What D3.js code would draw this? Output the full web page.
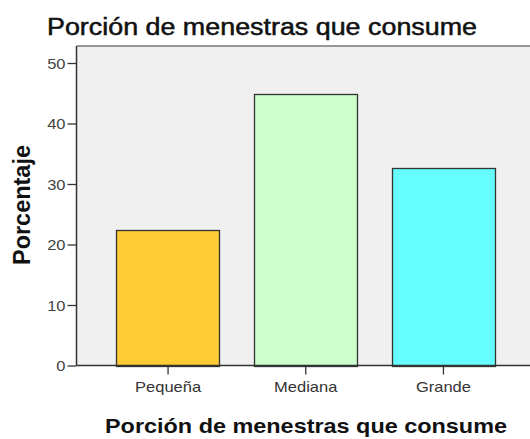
<!DOCTYPE html>
<html>
<head>
<meta charset="utf-8">
<script src="https://cdn.jsdelivr.net/npm/d3@7"></script>
<style>
  html, body { margin: 0; padding: 0; background: #ffffff; }
  svg { display: block; }
</style>
</head>
<body>
<svg id="chart" width="530" height="439"></svg>
<script>
const categories = ["Pequeña", "Mediana", "Grande"];
const values = [22.4, 44.9, 32.7];
const colors = ["#FFCC33", "#CCFFCC", "#66FFFF"];
const yTicks = [0, 10, 20, 30, 40, 50];
const title = "Porción de menestras que consume";
const xTitle = "Porción de menestras que consume";
const yTitle = "Porcentaje";

(function () {
const svg = d3.select("#chart");
const W = 530, H = 439;
const mLeft = 76.5, mTop = 46, mBottom = 365.5;
const mRight = 535;
const FONT = "Liberation Sans, Arial, sans-serif";
const STRETCH = 1.1;

function stretch(sel) {
  sel.each(function () {
    const len = this.getComputedTextLength();
    d3.select(this).attr("textLength", len * STRETCH).attr("lengthAdjust", "spacingAndGlyphs");
  });
}

const x = d3.scaleBand().domain(categories).range([mLeft, mRight])
  .paddingInner(0.25).paddingOuter(0.29);
const y = d3.scaleLinear().domain([0, 50]).range([mBottom, 63]);

// plot background
svg.append("rect").attr("x", mLeft).attr("y", mTop)
  .attr("width", W - mLeft + 5).attr("height", mBottom - mTop)
  .attr("fill", "#F0F0F0");
// top frame line
svg.append("line").attr("x1", mLeft).attr("x2", W + 5)
  .attr("y1", mTop).attr("y2", mTop)
  .attr("stroke", "#777").attr("stroke-width", 1.5);

// bars
svg.append("g").selectAll("rect").data(values).join("rect")
  .attr("x", (d, i) => Math.round(x(categories[i])) + 0.5)
  .attr("y", d => Math.round(y(d)) + 0.5)
  .attr("width", Math.round(x.bandwidth()))
  .attr("height", d => Math.round(mBottom - y(d)))
  .attr("fill", (d, i) => colors[i])
  .attr("stroke", "#333").attr("stroke-width", 1.3);

// y axis
const yAxis = svg.append("g").attr("transform", `translate(${mLeft},0)`)
  .call(d3.axisLeft(y).tickValues(yTicks).tickSize(9).tickPadding(2).tickFormat(d3.format("d")));
yAxis.select(".domain").attr("d", `M0,${mTop}V${mBottom}`).attr("stroke", "#333").attr("stroke-width", 1.5);
yAxis.selectAll(".tick line").attr("stroke", "#333").attr("stroke-width", 1.3);
yAxis.selectAll("text").attr("font-family", FONT)
  .attr("font-size", 15).attr("fill", "#444").attr("dy", "0.36em").call(stretch);

// x axis
const xAxis = svg.append("g").attr("transform", `translate(0,${mBottom})`)
  .call(d3.axisBottom(x).tickSize(9).tickPadding(7));
xAxis.select(".domain").attr("d", `M${mLeft},0H${W + 5}`).attr("stroke", "#333").attr("stroke-width", 1.5);
xAxis.selectAll(".tick line").attr("stroke", "#333").attr("stroke-width", 1.3);
xAxis.selectAll("text").attr("font-family", FONT)
  .attr("font-size", 15).attr("fill", "#333").call(stretch);

// titles
svg.append("text").attr("x", 47).attr("y", 35)
  .attr("font-family", FONT)
  .attr("font-size", 23).attr("fill", "#111")
  .attr("stroke", "#111").attr("stroke-width", 0.5)
  .attr("textLength", 430).attr("lengthAdjust", "spacingAndGlyphs")
  .text(title);

svg.append("text").attr("x", 306).attr("y", 433)
  .attr("text-anchor", "middle")
  .attr("font-family", FONT)
  .attr("font-size", 21).attr("font-weight", "bold").attr("fill", "#111")
  .attr("textLength", 402).attr("lengthAdjust", "spacingAndGlyphs")
  .text(xTitle);

svg.append("text")
  .attr("transform", "translate(30,205) rotate(-90)")
  .attr("text-anchor", "middle")
  .attr("font-family", FONT)
  .attr("font-size", 23).attr("font-weight", "bold").attr("fill", "#111")
  .attr("textLength", 120).attr("lengthAdjust", "spacingAndGlyphs")
  .text(yTitle);
})();
</script>
</body>
</html>
